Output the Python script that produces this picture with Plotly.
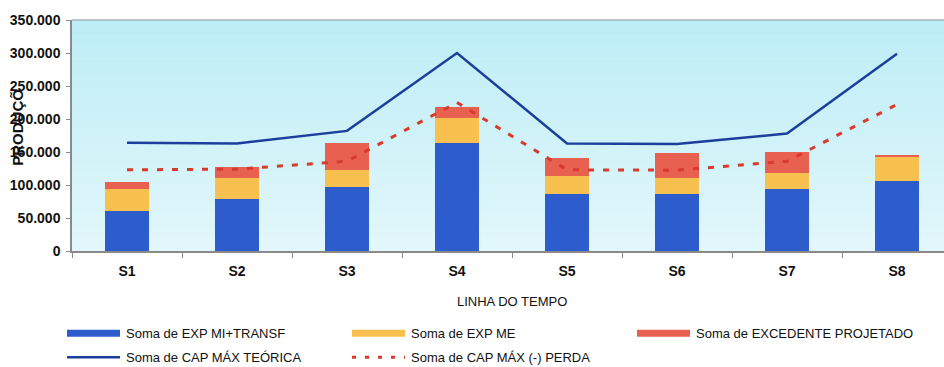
import plotly.graph_objects as go

# ---- data ----
categories = ["S1", "S2", "S3", "S4", "S5", "S6", "S7", "S8"]
exp_mi_transf = [60800, 79500, 97000, 164100, 86300, 86700, 93800, 106600]
exp_me = [32700, 31700, 25200, 37700, 27600, 24600, 25100, 35500]
excedente = [11000, 16000, 41800, 15700, 26700, 36800, 30700, 4000]
cap_max_teorica = [164000, 163000, 182000, 300000, 163000, 162000, 178000, 299000]
cap_max_perda = [123000, 124000, 136000, 225000, 123000, 122500, 136000, 222000]
y_ticks = [0, 50000, 100000, 150000, 200000, 250000, 300000, 350000]

names = ["Soma de EXP MI+TRANSF", "Soma de EXP ME", "Soma de EXCEDENTE PROJETADO",
         "Soma de CAP MÁX TEÓRICA", "Soma de CAP MÁX (-) PERDA"]

C_BLUE = "#2d5ccc"
C_ORANGE = "#f8c04e"
C_RED = "#e8604f"
C_LINE = "#1c3f9e"
C_DASH = "#d83a2c"

FONT = "Liberation Sans, Arial, sans-serif"

fig = go.Figure()
fig.add_trace(go.Bar(x=categories, y=exp_mi_transf, name=names[0], marker_color=C_BLUE,
                     marker_line_width=0, width=0.4, showlegend=False))
fig.add_trace(go.Bar(x=categories, y=exp_me, name=names[1], marker_color=C_ORANGE,
                     marker_line_width=0, width=0.4, showlegend=False))
fig.add_trace(go.Bar(x=categories, y=excedente, name=names[2], marker_color=C_RED,
                     marker_line_width=0, width=0.4, showlegend=False))
fig.add_trace(go.Scatter(x=categories, y=cap_max_teorica, name=names[3], mode="lines",
                         line=dict(color=C_LINE, width=2.5), showlegend=False))
fig.add_trace(go.Scatter(x=categories, y=cap_max_perda, name=names[4], mode="lines",
                         line=dict(color=C_DASH, width=3, dash="6px,9px"), showlegend=False))

W, H = 944, 367
ML, MT = 72, 20
plot_bottom = 251.5
plot_w = W - ML  # right side of chart is cropped by the image edge
plot_h = plot_bottom - MT
cat_px = 110.0


def px_x(px):
    return (px - ML) / plot_w


def px_y(py):
    return (plot_bottom - py) / plot_h


shapes = []
# vertical gradient background of the plot area
n_bands = 30
top_c = (189, 237, 246)
bot_c = (226, 247, 251)
for i in range(n_bands):
    t = i / (n_bands - 1)
    c = tuple(round(top_c[k] + (bot_c[k] - top_c[k]) * t) for k in range(3))
    shapes.append(dict(type="rect", xref="paper", yref="paper", layer="below",
                       x0=0, x1=1, y0=1 - (i + 1) / n_bands, y1=1 - i / n_bands,
                       fillcolor="rgb(%d,%d,%d)" % c, line_width=0))
# top border
shapes.append(dict(type="line", xref="paper", yref="paper", x0=0, x1=1, y0=1, y1=1,
                   line=dict(color="#a6b2b6", width=1.5)))

# custom legend
leg_rows = [334, 358]
leg_cols = [67, 352, 637]
sw_w = 53
legend_items = [
    (names[0], "bar", C_BLUE, 0, 0),
    (names[1], "bar", C_ORANGE, 1, 0),
    (names[2], "bar", C_RED, 2, 0),
    (names[3], "line", C_LINE, 0, 1),
    (names[4], "dash", C_DASH, 1, 1),
]
annotations = []
for text, kind, color, col, row in legend_items:
    x0 = leg_cols[col]
    yc = leg_rows[row]
    if kind == "bar":
        shapes.append(dict(type="rect", xref="paper", yref="paper",
                           x0=px_x(x0), x1=px_x(x0 + sw_w),
                           y0=px_y(yc + 3.5), y1=px_y(yc - 3.5),
                           fillcolor=color, line_width=0))
    elif kind == "line":
        shapes.append(dict(type="line", xref="paper", yref="paper",
                           x0=px_x(x0), x1=px_x(x0 + sw_w), y0=px_y(yc), y1=px_y(yc),
                           line=dict(color=color, width=2.5)))
    else:
        shapes.append(dict(type="line", xref="paper", yref="paper",
                           x0=px_x(x0), x1=px_x(x0 + sw_w), y0=px_y(yc), y1=px_y(yc),
                           line=dict(color=color, width=3, dash="4px,9px")))
    annotations.append(dict(text=text, xref="paper", yref="paper",
                            x=px_x(x0 + sw_w + 4), y=px_y(yc), xanchor="left", yanchor="middle",
                            showarrow=False, font=dict(family=FONT, size=13, color="#111")))

# axis titles
annotations.append(dict(text="LINHA DO TEMPO", xref="paper", yref="paper",
                        x=px_x(512), y=px_y(302), xanchor="center", yanchor="middle",
                        showarrow=False, font=dict(family=FONT, size=13, color="#111")))
annotations.append(dict(text="<b>PRODUÇÕ</b>", xref="paper", yref="paper", textangle=-90,
                        x=px_x(18), y=px_y(128), xanchor="center", yanchor="middle",
                        showarrow=False, font=dict(family=FONT, size=15, color="#111")))

fig.update_layout(
    width=W, height=H,
    barmode="stack",
    margin=dict(l=ML, r=0, t=MT, b=H - plot_bottom, pad=0),
    paper_bgcolor="white",
    plot_bgcolor="#d2f2f8",
    separators=",.",
    shapes=shapes,
    annotations=annotations,
    font=dict(family=FONT, color="#111"),
    xaxis=dict(
        type="category",
        range=[-0.5, -0.5 + plot_w / cat_px],
        tickson="boundaries",
        ticks="outside", ticklen=5, tickcolor="#8a8a8a",
        showline=True, linecolor="#8a8a8a", linewidth=1.5,
        showgrid=False, zeroline=False,
        ticklabelstandoff=6,
        tickfont=dict(family=FONT, size=14, color="#111", weight="bold"),
    ),
    yaxis=dict(
        range=[0, 350000],
        tickvals=y_ticks,
        tickformat=",d",
        ticks="outside", ticklen=4, tickcolor="#8a8a8a",
        showline=True, linecolor="#8a8a8a", linewidth=1.5,
        showgrid=False, zeroline=False,
        ticklabelstandoff=3,
        tickfont=dict(family=FONT, size=14, color="#111", weight="bold"),
    ),
)

fig.write_html("out.html",
               config={"displayModeBar": False},
               post_script="document.body.style.margin='0';document.body.style.padding='0';"
                           "document.documentElement.style.overflow='hidden';")
